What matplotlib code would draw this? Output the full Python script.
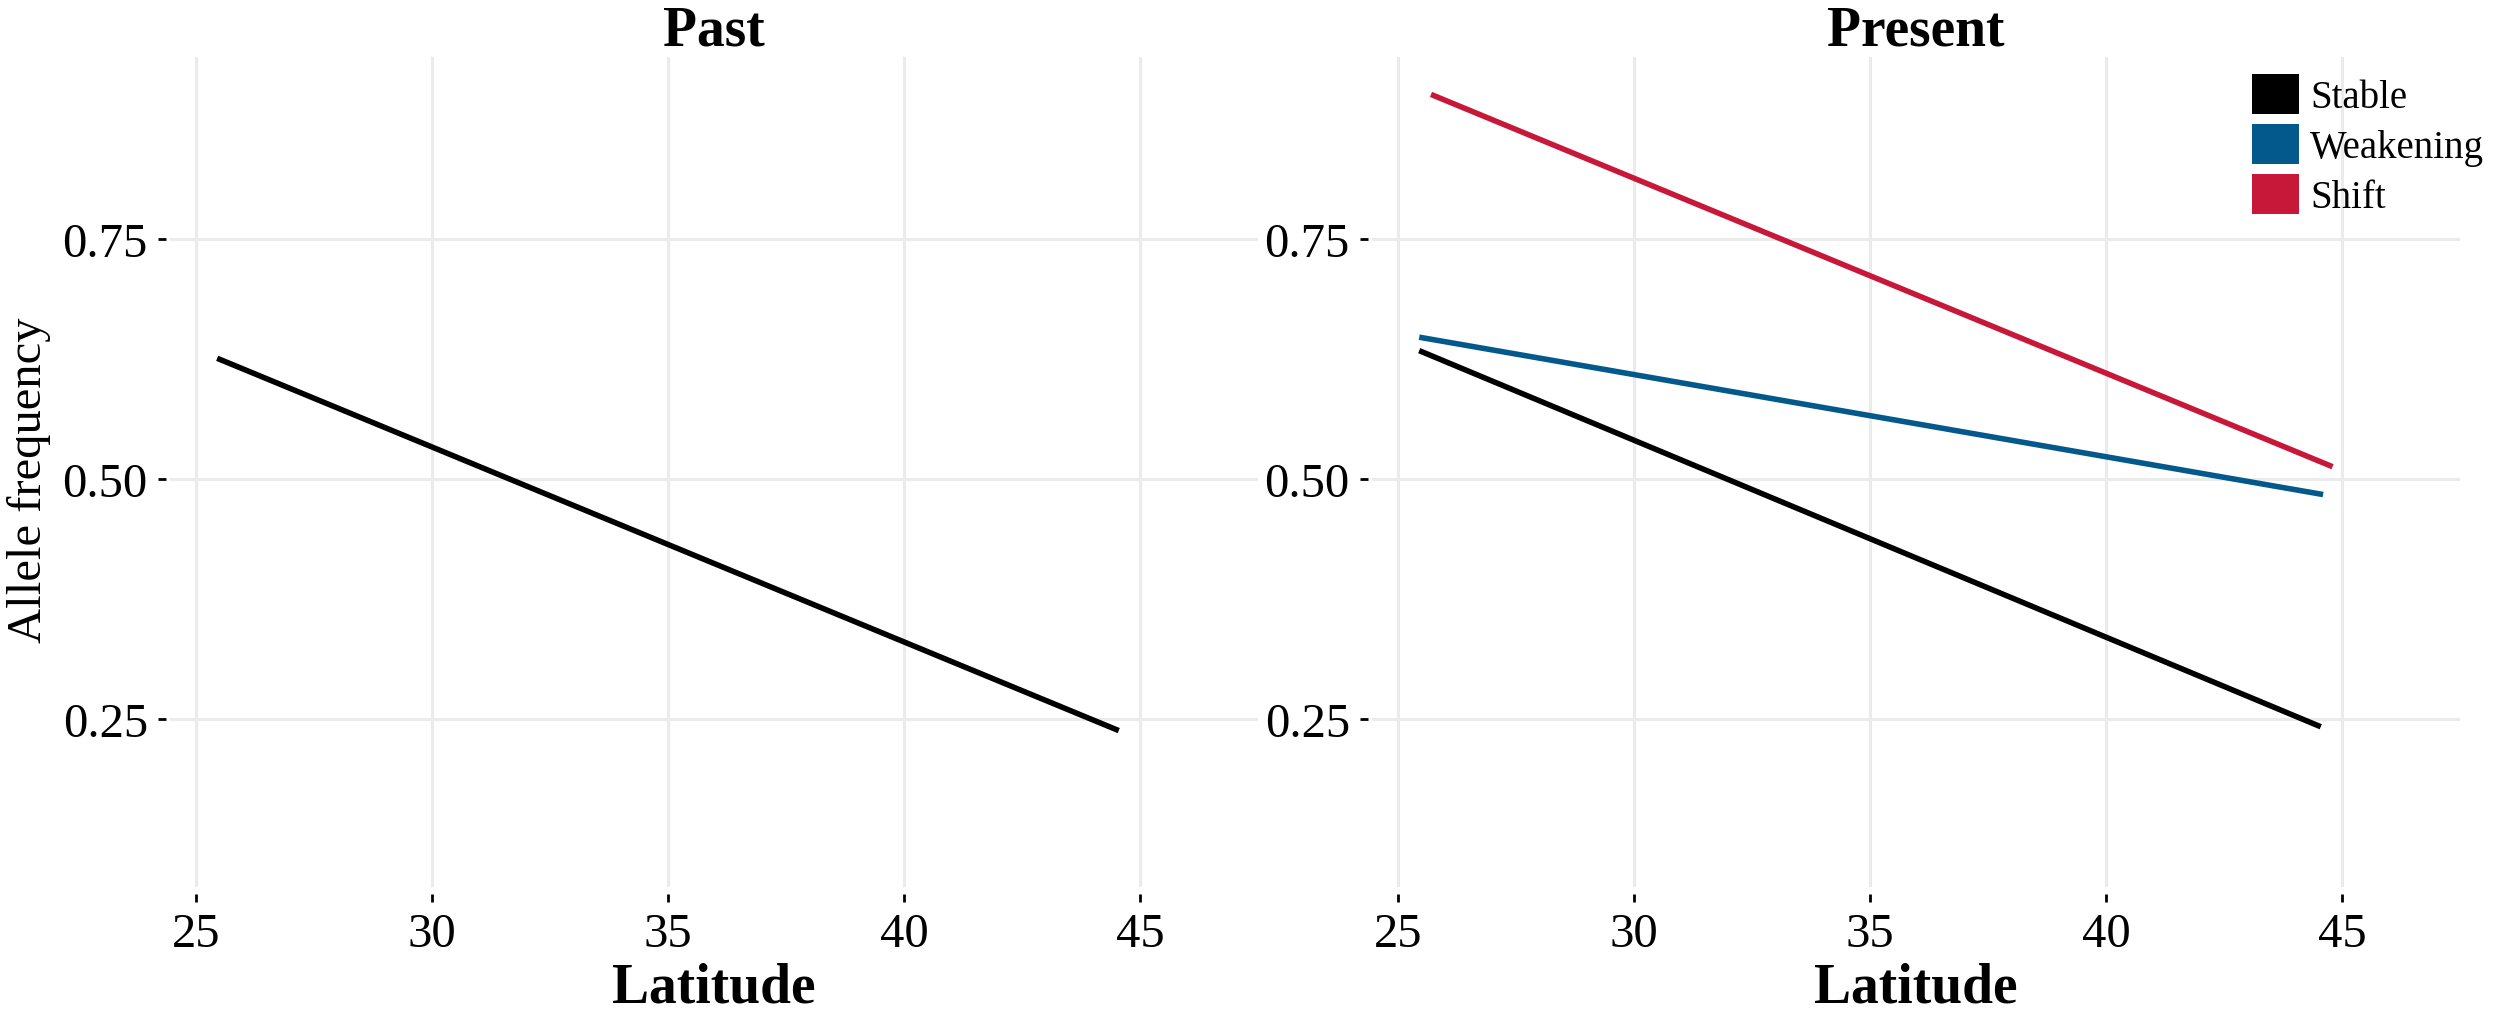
"""
Allele frequency along a latitude gradient - past vs present.
Two panels: fitted lines for the Stable / Weakening / Shift groups.
"""

import matplotlib
matplotlib.use("Agg")
import matplotlib.pyplot as plt
from matplotlib.patches import Patch

# ---------------------------------------------------------------------------
# Data
# ---------------------------------------------------------------------------
GROUPS = ["Stable", "Weakening", "Shift"]
COLORS = {"Stable": "#000000", "Weakening": "#03588C", "Shift": "#C8183A"}

# Past panel - only the stable line
past_lat    = [25.45, 44.55]
past_stable = [0.626, 0.238]

# Present panel
present_stable_lat = [25.45, 44.55]
present_stable     = [0.634, 0.242]
present_weak_lat   = [25.45, 44.6]
present_weak       = [0.648, 0.484]
present_shift_lat  = [25.7, 44.8]
present_shift      = [0.901, 0.513]

X_TICKS = [25, 30, 35, 40, 45]
Y_TICKS = [0.25, 0.50, 0.75]
Y_TICKLABELS = ["0.25", "0.50", "0.75"]

# ---------------------------------------------------------------------------
# Style
# ---------------------------------------------------------------------------
plt.rcParams["font.family"] = ["Liberation Serif", "DejaVu Serif"]
GRID_COL = "#EBEBEB"
TICK_PT  = 35
LW       = 4.0

W, H = 2500, 1012
fig = plt.figure(figsize=(W / 100, H / 100), dpi=100)

def px_axes(x0, x1, y0, y1):
    # axes from pixel box (y measured from top)
    return fig.add_axes([x0 / W, 1 - y1 / H, (x1 - x0) / W, (y1 - y0) / H])

ax1 = px_axes(170, 1258, 58, 888)
ax2 = px_axes(1372, 2460, 58, 888)

for ax in (ax1, ax2):
    ax.set_xlim(24.45, 47.5)
    ax.set_ylim(0.075, 0.94)
    ax.set_xticks(X_TICKS)
    ax.set_yticks(Y_TICKS)
    ax.set_yticklabels(Y_TICKLABELS)
    ax.grid(True, color=GRID_COL, linewidth=2.2)
    ax.set_axisbelow(True)
    for s in ax.spines.values():
        s.set_visible(False)
    ax.spines["left"].set_position(("outward", 3))
    ax.spines["bottom"].set_position(("outward", 5))
    ax.tick_params(axis="both", labelsize=TICK_PT, length=6, width=2,
                   color="black", pad=7)
    ax.set_xlabel("Latitude", fontsize=40, fontweight="bold", labelpad=4)

# -- Past --
ax1.plot(past_lat, past_stable, color=COLORS["Stable"], linewidth=LW,
         solid_capstyle="butt")
ax1.set_title("Past", fontsize=40, fontweight="bold", pad=8)

# -- Present --
ax2.plot(present_stable_lat, present_stable, color=COLORS["Stable"],
         linewidth=LW, solid_capstyle="butt")
ax2.plot(present_weak_lat, present_weak, color=COLORS["Weakening"],
         linewidth=LW, solid_capstyle="butt")
ax2.plot(present_shift_lat, present_shift, color=COLORS["Shift"],
         linewidth=LW, solid_capstyle="butt")
ax2.set_title("Present", fontsize=40, fontweight="bold", pad=8)

handles = [Patch(facecolor=COLORS[g], edgecolor="none", label=g) for g in GROUPS]
fig.legend(handles=handles, loc="upper left",
           bbox_to_anchor=(2252 / W, 1 - 75 / H), frameon=False,
           fontsize=28, handlelength=1.2, handleheight=1.2,
           handletextpad=0.3, labelspacing=0.2, borderaxespad=0,
           borderpad=0)

fig.text(29 / W, 1 - 480 / H, "Allele frequency", rotation=90,
         ha="center", va="center", fontsize=35)

fig.savefig("out.png", dpi=100)
